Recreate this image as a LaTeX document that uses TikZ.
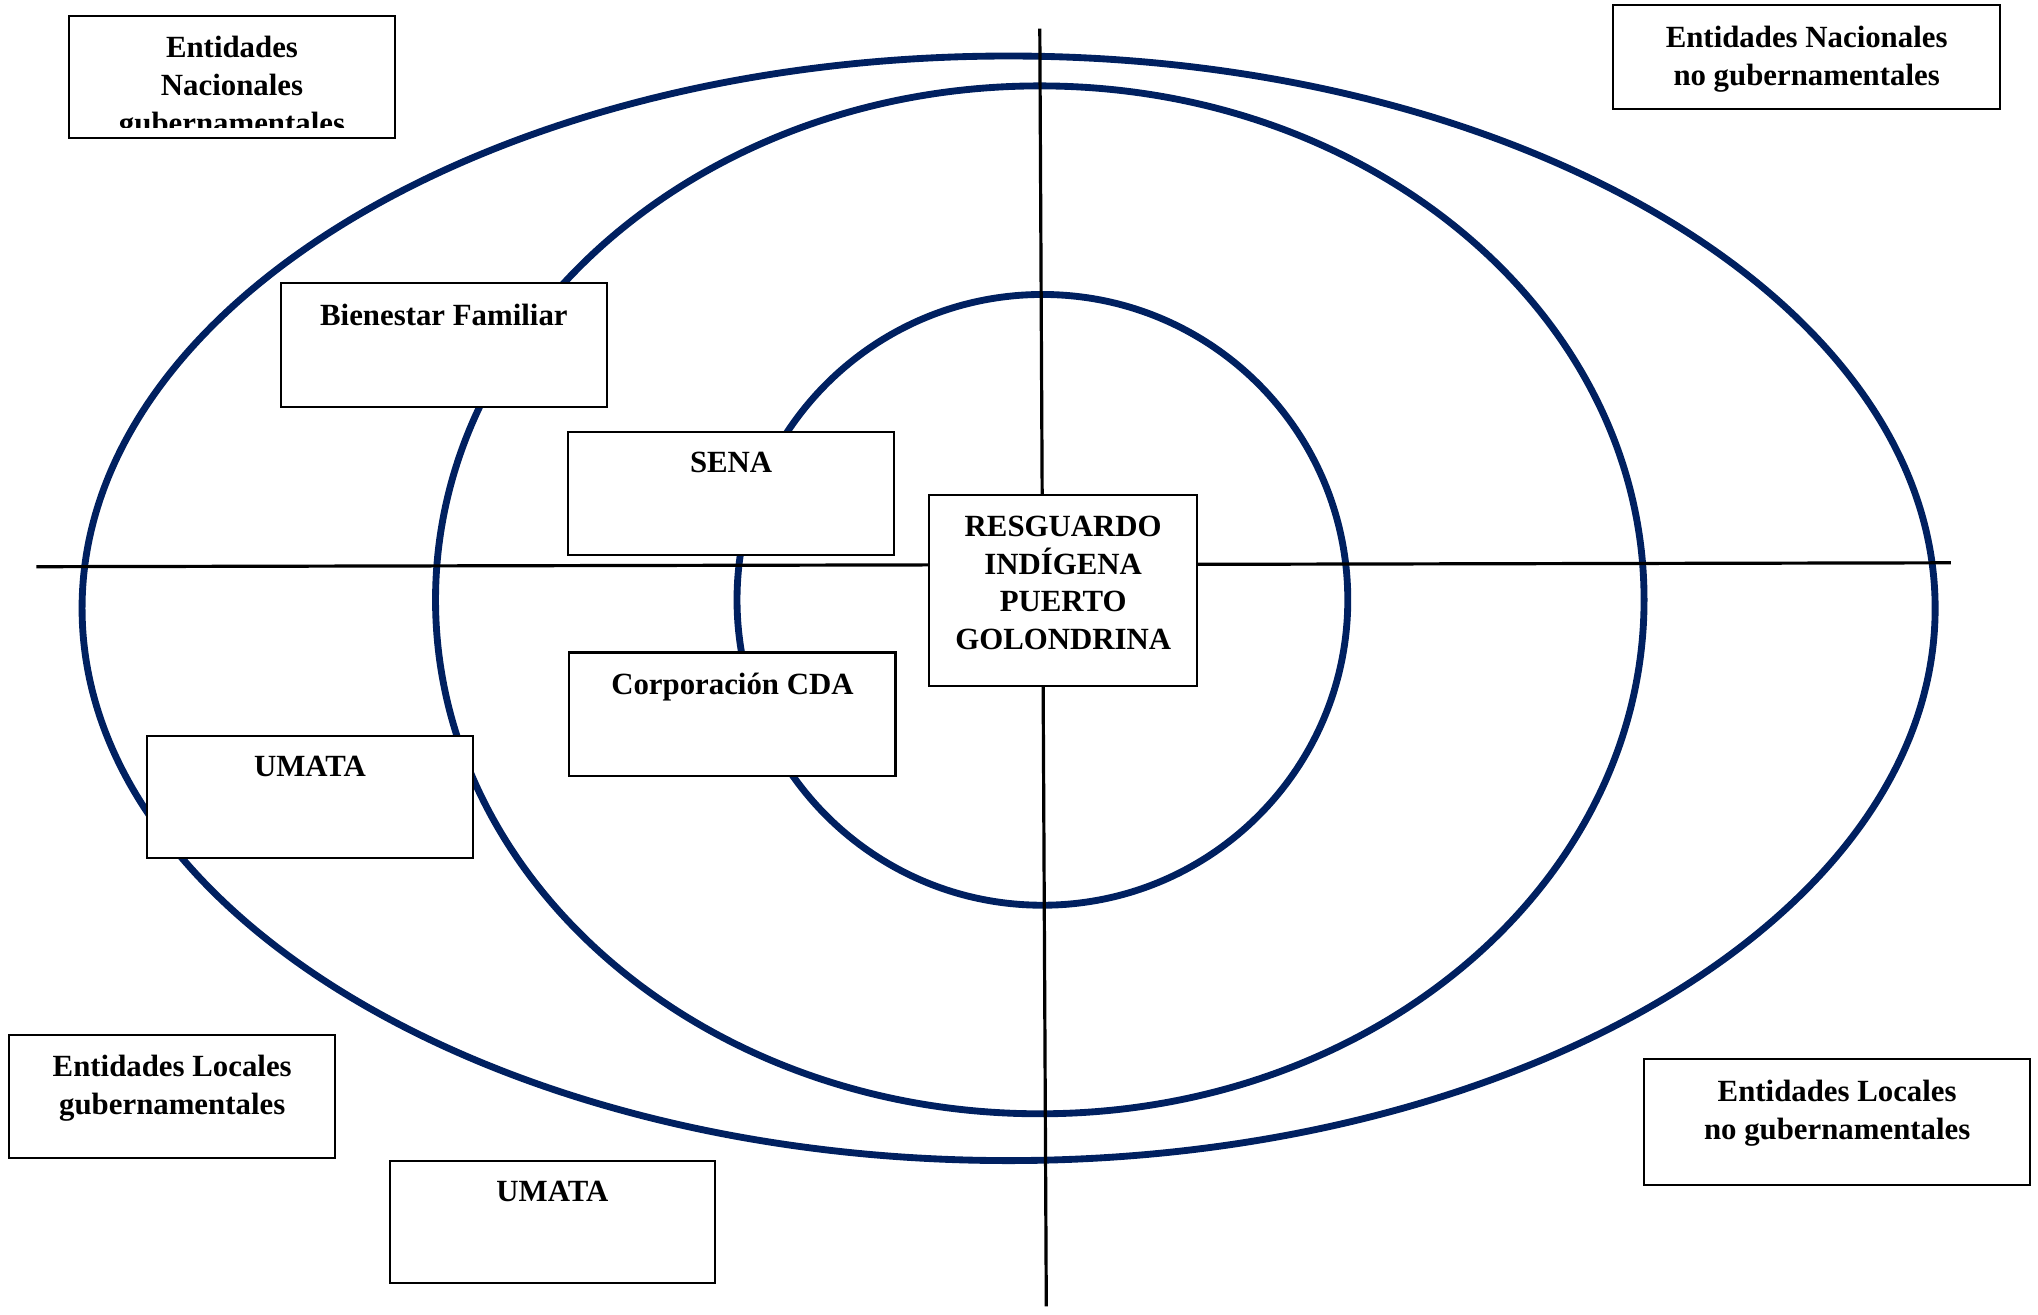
\documentclass[tikz,border=0pt]{standalone}
\usepackage{fontspec}
\setmainfont{Liberation Serif}
\usetikzlibrary{positioning}
\definecolor{navy}{RGB}{0,32,96}
\tikzset{
  ring/.style={draw=navy, line width=3pt},
  axis/.style={draw=black, line width=1.4pt},
  box/.style={draw=black, fill=white, line width=0.9pt, inner sep=0pt},
  lbl/.style={font=\fontsize{13.5}{16.5}\selectfont\bfseries, align=center, inner sep=0pt}
}
\begin{document}
\begin{tikzpicture}[x=0.02cm, y=-0.02cm]
\useasboundingbox (0,0) rectangle (1568,1011.7);

% rings
\draw[ring] (776,468) ellipse [x radius=14.26cm, y radius=8.5cm];
\draw[ring] (800,461.5) ellipse [x radius=9.3cm, y radius=7.91cm];
\draw[ring] (802,461.5) circle [radius=4.7cm];

% axes
\coordinate (hl) at (28,436);
\coordinate (hr) at (1501,433);
\coordinate (vt) at (800,22);
\coordinate (vb) at (805,1005);
\draw[axis] (hl) -- (hr);
\draw[axis] (vt) -- (vb);

% boxes
\node[box, minimum width=5.02cm, minimum height=1.88cm] (eng) at (178.5,59) {};
\begin{scope}
\clip (eng.north west) rectangle ([yshift=0.17cm]eng.south east);
\node[lbl, below=0.33cm of eng.north] (engt) {Entidades\\Nacionales\\gubernamentales};
\end{scope}

\node[box, minimum width=5.96cm, minimum height=1.6cm] (enng) at (1390,44) {};
\node[lbl, below=0.33cm of enng.north] (enngt) {Entidades Nacionales\\no gubernamentales};

\node[box, minimum width=5.02cm, minimum height=1.9cm] (bien) at (341.5,265.5) {};
\node[lbl, below=0.33cm of bien.north] (bient) {Bienestar Familiar};

\node[box, minimum width=5.02cm, minimum height=1.9cm] (sena) at (562.5,379.5) {};
\node[lbl, below=0.33cm of sena.north] (senat) {SENA};

\node[box, minimum width=4.12cm, minimum height=2.94cm] (resg) at (818,454.5) {};
\node[lbl, below=0.33cm of resg.north] (resgt) {RESGUARDO\\INDÍGENA\\PUERTO\\GOLONDRINA};

\node[box, minimum width=5.02cm, minimum height=1.9cm] (cda) at (563.5,549.5) {};
\node[lbl, below=0.33cm of cda.north] (cdat) {Corporación CDA};

\node[box, minimum width=5.02cm, minimum height=1.88cm] (umataA) at (238.5,613) {};
\node[lbl, below=0.33cm of umataA.north] (umataAt) {UMATA};

\node[box, minimum width=5.02cm, minimum height=1.9cm] (elg) at (132.5,843.5) {};
\node[lbl, below=0.33cm of elg.north] (elgt) {Entidades Locales\\gubernamentales};

\node[box, minimum width=5.0cm, minimum height=1.88cm] (umataB) at (425,940) {};
\node[lbl, below=0.33cm of umataB.north] (umataBt) {UMATA};

\node[box, minimum width=5.94cm, minimum height=1.94cm] (elng) at (1413.5,863.5) {};
\node[lbl, below=0.33cm of elng.north] (elngt) {Entidades Locales\\no gubernamentales};
\end{tikzpicture}
\end{document}
